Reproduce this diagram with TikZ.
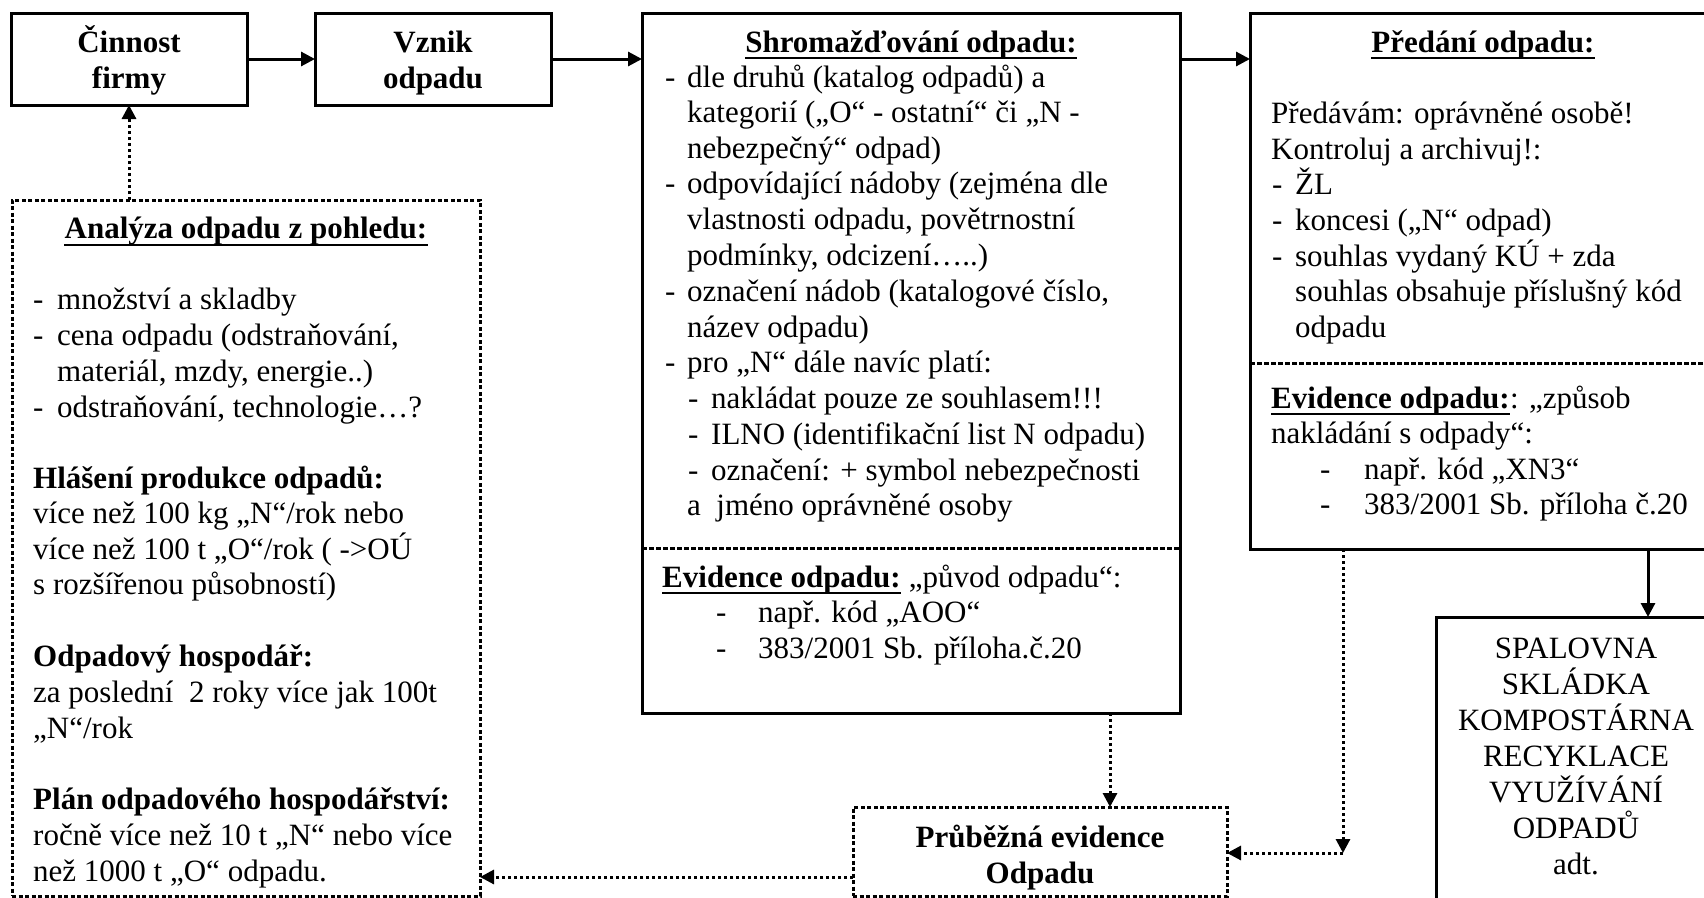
\documentclass[tikz,border=0pt]{standalone}
\usepackage{fontspec}
\setmainfont{Liberation Serif}
\usetikzlibrary{arrows.meta}
\newcommand\tf{\fontsize{31pt}{36pt}\selectfont}
\newcommand\dsh[1]{\makebox[#1][l]{-}}
\tikzset{
  plainbox/.style={draw, line width=3pt, inner sep=0pt, outer sep=0pt, anchor=north west},
  dotbox/.style={plainbox, dash pattern=on 4pt off 2.5pt},
  txt/.style={anchor=base west, inner sep=0pt, font=\tf},
  btxt/.style={anchor=base west, inner sep=0pt, font=\tf\bfseries},
  ctxt/.style={anchor=base, inner sep=0pt, font=\tf},
  ttl/.style={anchor=base, inner sep=0pt, font=\tf\bfseries},
  arr/.style={line width=3pt, -{Triangle[length=14pt,width=14pt]}},
  darr/.style={arr, dash pattern=on 3pt off 3pt},
  divline/.style={line width=3pt, dash pattern=on 5pt off 2pt},
  ul/.style={line width=2.5pt}
}
\begin{document}
\begin{tikzpicture}[x=1pt,y=1pt]
\useasboundingbox (0,0) rectangle (1704,-897);
\clip (0,0) rectangle (1704,-897);

% boxes
\node[plainbox, minimum width=236pt, minimum height=92pt] (cin) at (11,-13) {};
\node[plainbox, minimum width=236pt, minimum height=92pt] (vz) at (315,-13) {};
\node[plainbox, minimum width=538pt, minimum height=700pt] (shrom) at (642,-13) {};
\node[plainbox, minimum width=466pt, minimum height=536pt] (pred) at (1250,-13) {};
\node[plainbox, minimum width=281pt, minimum height=300pt] (spal) at (1436,-617) {};
\node[dotbox, minimum width=468pt, minimum height=696pt] (anal) at (12,-200) {};
\node[dotbox, minimum width=374pt, minimum height=89pt] (prub) at (853,-807) {};

% small box texts
\node[ttl] (cin1) at (129,-52) {Činnost};
\node[ttl] (cin2) at (129,-88) {firmy};
\node[ttl] (vz1) at (433,-52) {Vznik};
\node[ttl] (vz2) at (433,-88) {odpadu};
\node[ttl] (pr1) at (1040,-847) {Průběžná evidence};
\node[ttl] (pr2) at (1040,-883) {Odpadu};
\foreach \t [count=\i] in {SPALOVNA,SKLÁDKA,KOMPOSTÁRNA,RECYKLACE,VYUŽÍVÁNÍ,ODPADŮ,adt.}
  \node[ctxt] (sp\i) at (1576,{-658-36*(\i-1)}) {\t};

% Shromazdovani
\node[ttl] (s0) at (911,-52) {Shromažďování odpadu:};
\draw[ul] ([yshift=-6pt]s0.base west) -- ([yshift=-6pt]s0.base east);
\node[txt] (s1) at (665,-87) {\dsh{22pt}dle druhů (katalog odpadů) a};
\node[txt] (s2) at (687,-122) {kategorií („O“ - ostatní“ či „N -};
\node[txt] (s3) at (687,-158) {nebezpečný“ odpad)};
\node[txt] (s4) at (665,-193) {\dsh{22pt}odpovídající nádoby (zejména dle};
\node[txt] (s5) at (687,-229) {vlastnosti odpadu, povětrnostní};
\node[txt] (s6) at (687,-265) {podmínky, odcizení…..)};
\node[txt] (s7) at (665,-301) {\dsh{22pt}označení nádob (katalogové číslo,};
\node[txt] (s8) at (687,-337) {název odpadu)};
\node[txt] (s9) at (665,-372) {\dsh{22pt}pro „N“ dále navíc platí:};
\node[txt] (s10) at (688,-408) {\dsh{23pt}nakládat pouze ze souhlasem!!!};
\node[txt] (s11) at (688,-444) {\dsh{23pt}ILNO (identifikační list N odpadu)};
\node[txt] (s12) at (688,-480) {\dsh{23pt}označení: + symbol nebezpečnosti};
\node[txt] (s13) at (687,-515) {a~~jméno oprávněné osoby};
\draw[divline] (shrom.west |- 0,-548) -- (shrom.east |- 0,-548);
\node[btxt] (s14) at (662,-587) {Evidence odpadu:};
\draw[ul] ([yshift=-6pt]s14.base west) -- ([yshift=-6pt]s14.base east);
\node[txt] (s15) at (s14.base east) {\ „původ odpadu“:};
\node[txt] (s16) at (716,-622) {\dsh{42pt}např. kód „AOO“};
\node[txt] (s17) at (716,-658) {\dsh{42pt}383/2001 Sb. příloha.č.20};

% Predani
\node[ttl] (p0) at (1483,-52) {Předání odpadu:};
\draw[ul] ([yshift=-6pt]p0.base west) -- ([yshift=-6pt]p0.base east);
\node[txt] (p1) at (1271,-123) {Předávám: oprávněné osobě!};
\node[txt] (p2) at (1271,-159) {Kontroluj a archivuj!:};
\node[txt] (p3) at (1272,-194) {\dsh{23pt}ŽL};
\node[txt] (p4) at (1272,-230) {\dsh{23pt}koncesi („N“ odpad)};
\node[txt] (p5) at (1272,-266) {\dsh{23pt}souhlas vydaný KÚ + zda};
\node[txt] (p6) at (1295,-301) {souhlas obsahuje příslušný kód};
\node[txt] (p7) at (1295,-337) {odpadu};
\draw[divline] (pred.west |- 0,-363) -- (pred.east |- 0,-363);
\node[btxt] (p8) at (1271,-408) {Evidence odpadu:};
\draw[ul] ([yshift=-6pt]p8.base west) -- ([yshift=-6pt]p8.base east);
\node[txt] (p9) at (p8.base east) {: „způsob};
\node[txt] (p10) at (1271,-443) {nakládání s odpady“:};
\node[txt] (p11) at (1320,-479) {\dsh{44pt}např. kód „XN3“};
\node[txt] (p12) at (1320,-514) {\dsh{44pt}383/2001 Sb. příloha č.20};

% Analyza
\node[ttl] (a0) at (246,-238) {Analýza odpadu z pohledu:};
\draw[ul] ([yshift=-7pt]a0.base west) -- ([yshift=-7pt]a0.base east);
\node[txt] (a1) at (33,-309) {\dsh{24pt}množství a skladby};
\node[txt] (a2) at (33,-345) {\dsh{24pt}cena odpadu (odstraňování,};
\node[txt] (a3) at (57,-381) {materiál, mzdy, energie..)};
\node[txt] (a4) at (33,-417) {\dsh{24pt}odstraňování, technologie…?};
\node[btxt] (a5) at (33,-488) {Hlášení produkce odpadů:};
\node[txt] (a6) at (33,-523) {více než 100 kg „N“/rok nebo};
\node[txt] (a7) at (33,-559) {více než 100 t „O“/rok ( ->OÚ};
\node[txt] (a8) at (33,-594) {s rozšířenou působností)};
\node[btxt] (a9) at (33,-666) {Odpadový hospodář:};
\node[txt] (a10) at (33,-702) {za poslední~~2 roky více jak 100t};
\node[txt] (a11) at (33,-738) {„N“/rok};
\node[btxt] (a12) at (33,-809) {Plán odpadového hospodářství:};
\node[txt] (a13) at (33,-845) {ročně více než 10 t „N“ nebo více};
\node[txt] (a14) at (33,-881) {než 1000 t „O“ odpadu.};

% connectors
\coordinate (sx) at (1110,-760);
\coordinate (pc) at (1343,-853);
\coordinate (sp) at (1648,-580);
\coordinate (ac) at (700,-877);
\draw[arr] (cin.east) -- (vz.west);
\draw[arr] (vz.east) -- (vz.east -| shrom.west);
\draw[arr] (shrom.east |- vz.east) -- (pred.west |- vz.east);
\draw[arr] (pred.south -| sp) -- (spal.north -| sp);
\draw[darr] (anal.north -| cin.south) -- (cin.south);
\draw[darr] (shrom.south -| sx) -- (prub.north -| sx);
\draw[darr] (pred.south -| pc) -- (pc);
\draw[darr] (pc) -- (prub.east |- pc);
\draw[darr] (prub.west |- ac) -- (anal.east |- ac);
\end{tikzpicture}
\end{document}
